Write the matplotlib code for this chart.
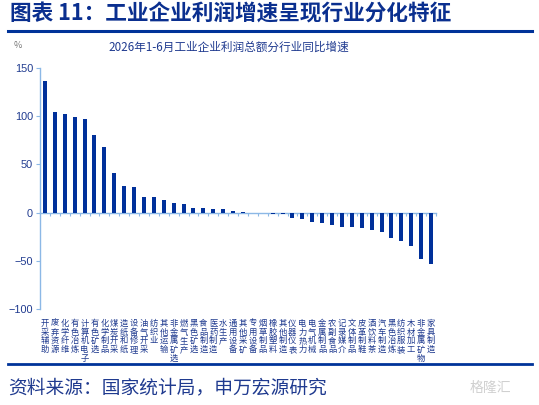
import matplotlib.pyplot as plt
from matplotlib.transforms import blended_transform_factory

plt.rcParams['font.family'] = ['Noto Sans CJK SC', 'DejaVu Sans']

# 2026年1-6月 工业企业利润总额分行业同比增速 (%)
industries = ['开采辅助', '废弃资源', '化学纤维', '有色冶炼', '计算机电子', '有色矿选',
              '化学制品', '煤炭开采', '造纸和纸', '设备修理', '油气开采', '纺织业',
              '其他运输', '非金属矿选', '燃气生产', '黑色矿选', '食品制造', '医药制造',
              '水生产', '通用设备', '其他采矿', '专用设备', '烟草制品', '橡胶塑料',
              '其他制造', '仪器仪表', '电力热力', '电气机械', '金属制品', '农副食品',
              '记录媒介', '文体制品', '皮革制鞋', '酒饮料茶', '汽车制造', '黑色冶炼',
              '纺织服装', '木材加工', '非金属矿物', '家具制造']
growth = [136, 104.5, 102.5, 99.5, 97, 80,
          68, 41.5, 27.5, 26.5, 16.5, 16.5,
          13, 10, 9, 4.5, 4.5, 4,
          4, 1.5, 0.3, -0.3, -0.5, -1,
          -1.5, -6, -7, -9.5, -10.5, -12.5,
          -14.5, -14.5, -16, -18.5, -20.5, -26,
          -29, -34.5, -48.5, -53.5]
yticks = [-100, -50, 0, 50, 100, 150]

navy = '#0a2f8f'
axis_blue = '#8cb8e6'
text_blue = '#1f3a8f'

fig = plt.figure(figsize=(5.39, 4.05), dpi=100)
ax = fig.add_axes([40 / 539, 1 - 309 / 405, 396 / 539, 241 / 405])

x = list(range(len(industries)))
ax.bar(x, growth, width=0.4, color='#00309a', zorder=3)

ax.set_xlim(-0.5, len(industries) - 0.5)
ax.set_ylim(-100, 150)
ax.set_yticks(yticks)
ax.tick_params(axis='y', colors=axis_blue, labelcolor=text_blue, labelsize=7.8,
               length=3, width=0.8, pad=2)
for lbl in ax.get_yticklabels():
    lbl.set_family(['Liberation Sans', 'DejaVu Sans'])

for side in ['top', 'right']:
    ax.spines[side].set_visible(False)
ax.spines['left'].set_color(axis_blue)
ax.spines['left'].set_linewidth(1.0)
ax.spines['bottom'].set_position(('data', 0))
ax.spines['bottom'].set_color(axis_blue)
ax.spines['bottom'].set_linewidth(1.0)

ax.set_xticks([i + 0.5 for i in x])
ax.tick_params(axis='x', colors=axis_blue, length=2.5, width=0.8, labelbottom=False)

# vertical category labels under the plot area
trans = blended_transform_factory(ax.transData, ax.transAxes)
for i, name in enumerate(industries):
    ax.text(i, -0.04, '\n'.join(name), transform=trans, ha='center', va='top',
            fontsize=6.0, color=text_blue, linespacing=0.98)

# header
fig.text(10 / 539, 1 - 3 / 405, '图表 11：工业企业利润增速呈现行业分化特征',
         fontsize=15.6, fontweight='bold', color=navy, va='top', ha='left')
fig.add_artist(plt.Line2D([8 / 539, 532 / 539], [1 - 30.5 / 405] * 2,
                          color='#003399', linewidth=2.2))
fig.text(14 / 539, 1 - 45 / 405, '%', fontsize=6.5, color='#777777', va='center')
fig.text(108 / 539, 1 - 47 / 405, '2026年1-6月工业企业利润总额分行业同比增速',
         fontsize=8.4, color=text_blue, va='center', ha='left')

# footer
fig.add_artist(plt.Line2D([8 / 539, 532 / 539], [1 - 364 / 405] * 2,
                          color='#003399', linewidth=2.0))
fig.text(8 / 539, 1 - 388 / 405, '资料来源：国家统计局，申万宏源研究',
         fontsize=13.5, color=text_blue, va='center', ha='left')
fig.text(470 / 539, 1 - 388 / 405, '格隆汇', fontsize=10, color='#d0d0d0',
         va='center', ha='left')

fig.savefig('out.png', dpi=100)
